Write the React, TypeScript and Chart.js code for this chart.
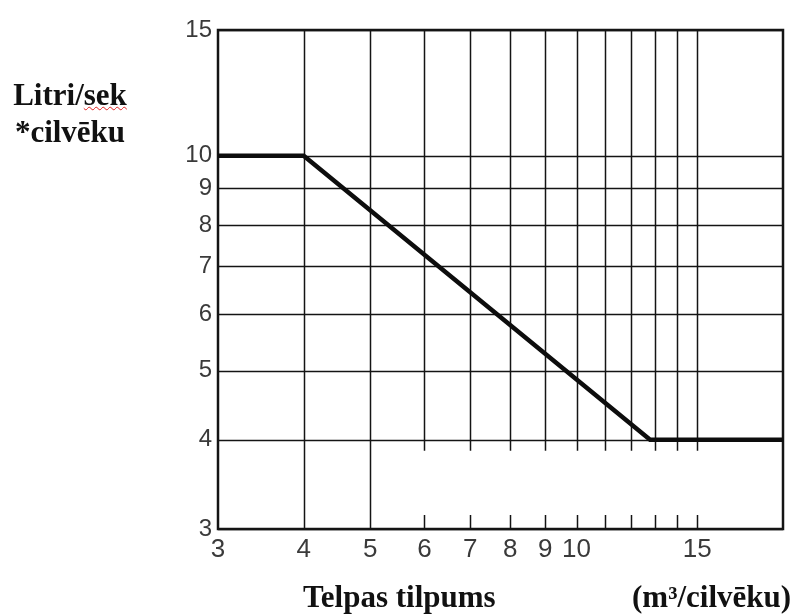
import React, { useEffect, useRef } from 'react';
import { Chart, registerables } from 'chart.js';

Chart.register(...registerables);

// ---- data ----
const lineX = [3, 4, 12.8, 20];
const lineY = [10, 10, 4, 4];

const xMin = 3;
const xMax = 20;
const yMin = 3;
const yMax = 15;

const xTickValues = [3, 4, 5, 6, 7, 8, 9, 10, 11, 12, 13, 14, 15];
const xTickLabels = ['3', '4', '5', '6', '7', '8', '9', '10', '', '', '', '', '15'];
const xFullGridValues = [4, 5];
const xGridStopValue = 4; // other verticals stop just below this y value

const yTickValues = [3, 4, 5, 6, 7, 8, 9, 10, 15];
const yTickLabels = ['3', '4', '5', '6', '7', '8', '9', '10', '15'];

const yTitleLine1 = 'Litri/';
const yTitleLine1b = 'sek';
const yTitleLine2 = '*cilvēku';
const xTitleMain = 'Telpas tilpums';
const xTitleUnit = '(m³/cilvēku)';

const gridPlugin = {
  id: 'scanGrid',
  beforeDatasetsDraw(chart: any) {
    const { ctx, chartArea, scales } = chart;
    const xs = scales.x;
    const ys = scales.y;
    ctx.save();
    ctx.strokeStyle = '#141414';
    // horizontal lines
    ctx.lineWidth = 1.5;
    yTickValues.forEach((v) => {
      const y = Math.round(ys.getPixelForValue(v)) + 0.5;
      ctx.beginPath();
      ctx.moveTo(chartArea.left, y);
      ctx.lineTo(chartArea.right, y);
      ctx.stroke();
    });
    // vertical lines
    const stopY = ys.getPixelForValue(xGridStopValue) + 11;
    xTickValues.forEach((v) => {
      if (v === xMin) return;
      const x = Math.round(xs.getPixelForValue(v)) + 0.5;
      ctx.beginPath();
      if (xFullGridValues.includes(v)) {
        ctx.moveTo(x, chartArea.top);
        ctx.lineTo(x, chartArea.bottom);
      } else {
        ctx.moveTo(x, chartArea.top);
        ctx.lineTo(x, stopY);
        ctx.moveTo(x, chartArea.bottom - 14);
        ctx.lineTo(x, chartArea.bottom);
      }
      ctx.stroke();
    });
    // frame
    ctx.lineWidth = 2.5;
    ctx.strokeRect(chartArea.left, chartArea.top, chartArea.right - chartArea.left, chartArea.bottom - chartArea.top);
    ctx.restore();
  },
};

export default function App() {
  const canvasRef = useRef<HTMLCanvasElement | null>(null);

  useEffect(() => {
    if (!canvasRef.current) return;
    const chart = new Chart(canvasRef.current, {
      type: 'line',
      data: {
        datasets: [
          {
            data: lineX.map((x, i) => ({ x, y: lineY[i] })),
            borderColor: '#0d0d0d',
            borderWidth: 4.5,
            pointRadius: 0,
            tension: 0,
            fill: false,
          },
        ],
      },
      options: {
        animation: false,
        responsive: false,
        layout: { padding: { left: 0, top: 30, right: 12, bottom: 0 } },
        plugins: {
          legend: { display: false },
          tooltip: { enabled: false },
        },
        scales: {
          x: {
            type: 'logarithmic',
            min: xMin,
            max: xMax,
            grid: { display: false, drawTicks: false },
            border: { display: false },
            afterBuildTicks: (s: any) => {
              s.ticks = xTickValues.map((v) => ({ value: v }));
            },
            afterFit: (s: any) => {
              s.height = 85;
            },
            ticks: {
              autoSkip: false,
              maxRotation: 0,
              padding: 5,
              color: '#3a3a3a',
              font: { family: 'Liberation Sans', size: 26 },
              callback: (_v: any, i: number) => xTickLabels[i],
            },
          },
          y: {
            type: 'logarithmic',
            min: yMin,
            max: yMax,
            grid: { display: false, drawTicks: false },
            border: { display: false },
            afterBuildTicks: (s: any) => {
              s.ticks = yTickValues.map((v) => ({ value: v }));
            },
            afterFit: (s: any) => {
              s.width = 218;
            },
            ticks: {
              autoSkip: false,
              padding: 6,
              color: '#3a3a3a',
              font: { family: 'Liberation Sans', size: 24 },
              callback: (_v: any, i: number) => yTickLabels[i],
            },
          },
        },
      },
      plugins: [gridPlugin],
    } as any);
    return () => chart.destroy();
  }, []);

  const serif: React.CSSProperties = {
    position: 'absolute',
    fontFamily: '"Liberation Serif", "Times New Roman", serif',
    fontWeight: 'bold',
    fontSize: 31,
    color: '#111',
    whiteSpace: 'nowrap',
  };

  return (
    <div style={{ position: 'fixed', left: 0, top: 0, width: 795, height: 614, background: '#fff' }}>
      <canvas ref={canvasRef} width={795} height={614} style={{ position: 'absolute', left: 0, top: 0 }} />
      <div style={{ ...serif, left: 0, top: 76, width: 140, textAlign: 'center', lineHeight: '37px' }}>
        <div>
          {yTitleLine1}
          <span style={{ textDecorationLine: 'underline', textDecorationStyle: 'wavy', textDecorationColor: '#e02020', textDecorationThickness: '1px' }}>
            {yTitleLine1b}
          </span>
        </div>
        <div>{yTitleLine2}</div>
      </div>
      <div style={{ ...serif, left: 303, top: 581, lineHeight: 1 }}>{xTitleMain}</div>
      <div style={{ ...serif, left: 632, top: 581, lineHeight: 1 }}>{xTitleUnit}</div>
    </div>
  );
}
